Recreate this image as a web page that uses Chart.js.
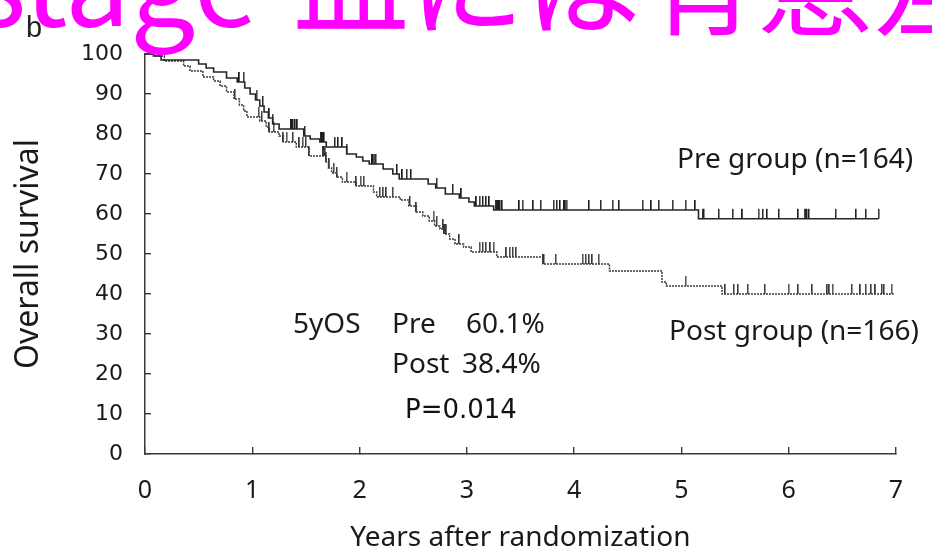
<!DOCTYPE html>
<html>
<head>
<meta charset="utf-8">
<script src="https://cdn.jsdelivr.net/npm/chart.js@4"></script>
<style>
  html, body { margin: 0; padding: 0; background: #fff; overflow: hidden; }
  #wrap { position: relative; width: 932px; height: 551px; }
  #chart { position: absolute; left: 0; top: 0; }
  #notes { position: absolute; left: 0; top: 0; pointer-events: none; }
  .cal { font-family: 'Noto Sans', sans-serif; font-size: 28px; fill: #1a1a1a; }
</style>
</head>
<body>
<div id="wrap">
  <canvas id="chart" width="932" height="551"></canvas>
  <svg id="notes" width="932" height="551">
    <text x="26" y="37" style="font-family:'Liberation Sans',sans-serif;font-size:29px;fill:#222">b</text>
    <text x="258" y="26" text-anchor="end" style="font-family:'Noto Sans CJK JP';font-size:116px;fill:#ff00ff">stage</text>
    <text x="293" y="26" style="font-family:'Noto Sans CJK JP';font-size:116px;fill:#ff00ff">皿には有意差</text>
    <text class="cal" x="677" y="168">Pre group (n=164)</text>
    <text class="cal" x="669" y="340">Post group (n=166)</text>
    <text class="cal" x="293" y="333">5yOS</text>
    <text class="cal" x="392" y="333">Pre</text>
    <text class="cal" x="466" y="333">60.1%</text>
    <text class="cal" x="392" y="373">Post</text>
    <text class="cal" x="462" y="373">38.4%</text>
    <text x="405" y="418" style="font-family:'DejaVu Sans';font-size:26px;fill:#111">P=0.014</text>
  </svg>
</div>
<script>
// Kaplan-Meier steps: time (years) and survival (%) after each drop
const PRE_T = [0, 0.08, 0.15, 0.50, 0.57, 0.64, 0.76, 0.86, 0.93, 0.98, 1.03, 1.07, 1.11, 1.15, 1.19, 1.25, 1.48, 1.54, 1.63, 1.69, 1.88, 1.97, 2.03, 2.09, 2.22, 2.31, 2.37, 2.64, 2.71, 2.80, 2.93, 3.02, 3.07, 3.25, 5.16, 6.84];
const PRE_S = [100, 99.5, 98.5, 97.5, 96.5, 95.5, 94, 93, 91.5, 90, 88.5, 87, 85.5, 84, 82.5, 81.25, 79.5, 78.75, 78, 76.75, 75, 74.25, 73.25, 72.5, 71.25, 70, 68.75, 67.5, 66.5, 65, 64, 63, 62, 61, 58.8, 58.8];

const POST_T = [0, 0.08, 0.18, 0.36, 0.42, 0.54, 0.64, 0.70, 0.76, 0.83, 0.88, 0.92, 0.95, 1.07, 1.13, 1.16, 1.25, 1.29, 1.41, 1.53, 1.69, 1.71, 1.74, 1.79, 1.84, 1.97, 2.13, 2.16, 2.38, 2.46, 2.53, 2.59, 2.65, 2.70, 2.75, 2.79, 2.84, 2.89, 2.97, 3.04, 3.28, 3.71, 4.33, 4.82, 4.86, 5.38, 6.98];
const POST_S = [100, 99.5, 98.25, 97, 95.75, 94.25, 93.25, 92, 90.5, 88.75, 87.25, 85.75, 84.25, 83.25, 81.75, 80.5, 79.5, 78, 76.75, 74.5, 73, 71.5, 70.25, 69.25, 68, 67, 65.5, 64.25, 63.5, 62, 60.5, 59.5, 58.25, 57, 56.25, 55, 53.75, 52.5, 51.75, 50.5, 49.25, 47.5, 45.75, 43, 42, 40, 40];

// censored cases (years)
const PRE_CENSOR = [0.88, 0.92, 1.04, 1.10, 1.16, 1.19, 1.36, 1.37, 1.38, 1.40, 1.42, 1.49, 1.64, 1.65, 1.66, 1.67, 1.77, 1.80, 1.84, 1.88, 2.12, 2.13, 2.14, 2.15, 2.35, 2.40, 2.44, 2.48, 2.72, 2.87, 2.95, 3.09, 3.12, 3.15, 3.18, 3.21, 3.27, 3.28, 3.29, 3.30, 3.31, 3.33, 3.49, 3.52, 3.62, 3.69, 3.81, 3.84, 3.87, 3.91, 3.92, 3.93, 4.14, 4.25, 4.36, 4.42, 4.64, 4.72, 4.79, 4.92, 5.04, 5.13, 5.20, 5.21, 5.35, 5.48, 5.57, 5.72, 5.76, 5.80, 5.91, 6.09, 6.15, 6.16, 6.17, 6.19, 6.44, 6.63, 6.72, 6.84];
const POST_CENSOR = [0.84, 1.06, 1.09, 1.16, 1.20, 1.29, 1.32, 1.38, 1.44, 1.47, 1.50, 1.53, 1.66, 1.67, 1.68, 1.69, 1.72, 1.76, 1.79, 1.88, 1.97, 2.01, 2.04, 2.19, 2.22, 2.25, 2.31, 2.47, 2.53, 2.69, 2.72, 2.78, 2.79, 2.80, 2.81, 2.93, 3.12, 3.15, 3.18, 3.22, 3.25, 3.37, 3.40, 3.43, 3.46, 3.71, 3.72, 3.83, 4.08, 4.11, 4.14, 4.17, 4.23, 5.04, 5.41, 5.49, 5.53, 5.62, 5.78, 6.00, 6.09, 6.22, 6.36, 6.38, 6.41, 6.59, 6.67, 6.72, 6.77, 6.81, 6.87, 6.89, 6.96];

const X_TICKS = [0, 1, 2, 3, 4, 5, 6, 7];
const Y_TICKS = [0, 10, 20, 30, 40, 50, 60, 70, 80, 90, 100];

const survAt = (T, S, t) => { let v = S[0]; for (let i = 0; i < T.length; i++) if (T[i] <= t) v = S[i]; return v; };
const steps = (T, S) => T.map((t, i) => ({x: t, y: S[i]}));
const censors = (C, T, S) => C.map(t => ({x: t, y: survAt(T, S, t)}));

// small upward tick for a censored case
function censorMark(color){
  const c = document.createElement('canvas');
  c.width = 2; c.height = 22;
  const g = c.getContext('2d');
  g.fillStyle = color;
  g.fillRect(0, 1, 1.5, 10);
  return c;
}

const AXIS = '#3a3a3a';

new Chart(document.getElementById('chart'), {
  data: {
    datasets: [
      { type:'line', data: steps(PRE_T, PRE_S), stepped:'before', borderColor:'#262626', borderWidth:1.6, pointRadius:0, fill:false },
      { type:'line', data: steps(POST_T, POST_S), stepped:'before', borderColor:'#3a3a3a', borderWidth:1.5, borderDash:[2,1], pointRadius:0, fill:false },
      { type:'scatter', data: censors(PRE_CENSOR, PRE_T, PRE_S), pointStyle: censorMark('#1e1e1e'), pointRadius:3 },
      { type:'scatter', data: censors(POST_CENSOR, POST_T, POST_S), pointStyle: censorMark('#383838'), pointRadius:3 },
    ]
  },
  options: {
    responsive:false, animation:false,
    layout:{ padding:{ top:54, right:28, bottom:0, left:0 } },
    plugins:{ legend:{display:false}, tooltip:{enabled:false} },
    scales:{
      x:{
        type:'linear', min:0, max:7,
        afterBuildTicks: s => { s.ticks = X_TICKS.map(v => ({value:v})); },
        afterFit: s => { s.height = 97; },
        ticks:{ color:'#1a1a1a', font:{family:'Noto Sans', size:25}, padding:29, autoSkip:false },
        grid:{ drawOnChartArea:false, tickLength:-7, color:AXIS, lineWidth:1.4 },
        border:{ color:AXIS, width:1.5 },
        title:{ display:true, text:'Years after randomization', color:'#1a1a1a', font:{family:'Noto Sans', size:28}, padding:{top:0, bottom:-4} }
      },
      y:{
        min:0, max:100,
        afterBuildTicks: s => { s.ticks = Y_TICKS.map(v => ({value:v})); },
        afterFit: s => { s.width = 145; },
        ticks:{ color:'#1a1a1a', font:{family:'DejaVu Sans', size:22}, padding:28 },
        grid:{ drawOnChartArea:false, tickLength:-6, color:AXIS, lineWidth:1.4 },
        border:{ color:AXIS, width:1.5 },
        title:{ display:true, text:'Overall survival', color:'#1a1a1a', font:{family:'Noto Sans', size:32}, padding:{top:10, bottom:0} }
      }
    }
  }
});
</script>
</body>
</html>
